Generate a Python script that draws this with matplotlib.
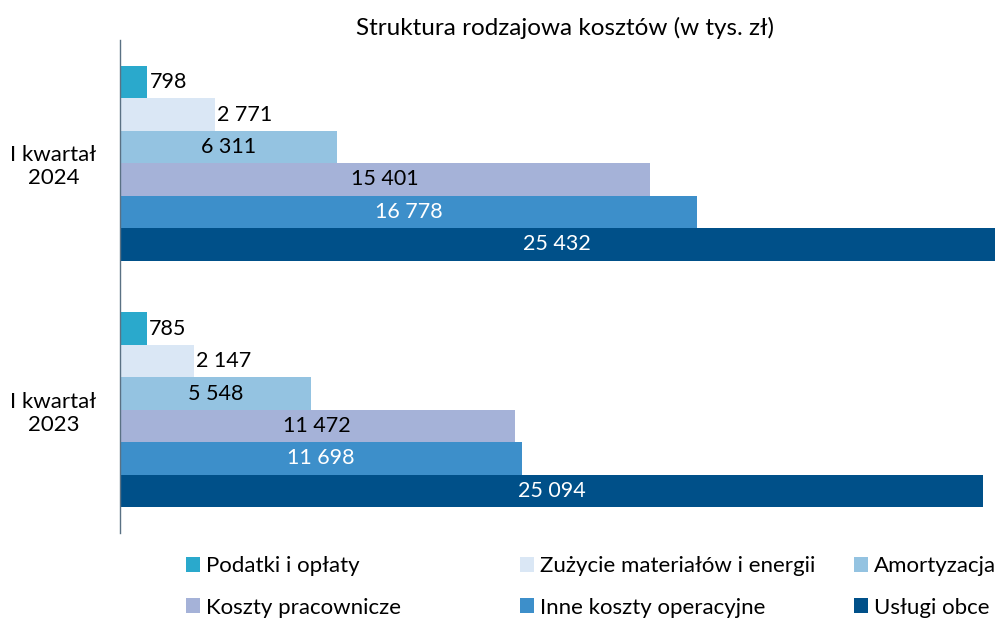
import numpy as np
import matplotlib.pyplot as plt
from matplotlib.patches import Patch

plt.rcParams['font.family'] = ['Lato', 'DejaVu Sans']

categories = ['I kwartał\n2024', 'I kwartał\n2023']
series = ['Podatki i opłaty', 'Zużycie materiałów i energii', 'Amortyzacja',
          'Koszty pracownicze', 'Inne koszty operacyjne', 'Usługi obce']
values = {
    'Podatki i opłaty': [798, 785],
    'Zużycie materiałów i energii': [2771, 2147],
    'Amortyzacja': [6311, 5548],
    'Koszty pracownicze': [15401, 11472],
    'Inne koszty operacyjne': [16778, 11698],
    'Usługi obce': [25432, 25094],
}
colors = ['#2AA9CC', '#DAE7F5', '#94C3E1', '#A5B2D8', '#3D8FCA', '#005089']
label_colors = ['black', 'black', 'black', 'black', 'white', 'white']

fig = plt.figure(figsize=(9.97, 6.19), dpi=100)
ax = fig.add_axes([120 / 997, 86 / 619, 875 / 997, 493 / 619])

n = len(series)
bar_h = 0.79 / n
y_cat = np.arange(len(categories))  # 0 = top (2024)

for i, s in enumerate(series):
    ys = y_cat - 0.395 + bar_h * (i + 0.5)
    vals = values[s]
    ax.barh(ys, vals, height=bar_h, color=colors[i], edgecolor='none')
    for y, v in zip(ys, vals):
        txt = f'{v:,}'.replace(',', ' ')
        if v < 4000:
            ax.text(v + 60, y, txt, ha='left', va='center', fontsize=15.5, color='black')
        else:
            ax.text(v / 2, y, txt, ha='center', va='center', fontsize=15.5,
                    color=label_colors[i])

ax.set_ylim(1.5, -0.5)
ax.set_xlim(0, 25440)
ax.set_yticks(y_cat)
ax.set_yticklabels(categories, fontsize=16, ha='center')
ax.tick_params(axis='y', length=0, pad=48)
ax.set_xticks([])
for sp in ['top', 'right', 'bottom']:
    ax.spines[sp].set_visible(False)
ax.spines['left'].set_color('#5A7184')
ax.spines['left'].set_linewidth(1)

fig.text(565 / 997, 1 - 28 / 619, 'Struktura rodzajowa kosztów (w tys. zł)',
         ha='center', va='center', fontsize=17.5)

# legend: three columns placed where the reference has them
col_x = [186, 520, 854]
for c in range(3):
    handles = [Patch(facecolor=colors[k], edgecolor='none', label=series[k])
               for k in (c, c + 3)]
    fig.legend(handles=handles, loc='center left',
               bbox_to_anchor=(col_x[c] / 997, 1 - 587 / 619), ncol=1, frameon=False,
               fontsize=16, handlelength=0.65, handleheight=0.65, handletextpad=0.25,
               labelspacing=0.95, borderaxespad=0, borderpad=0)

fig.savefig('out.png', dpi=100)
